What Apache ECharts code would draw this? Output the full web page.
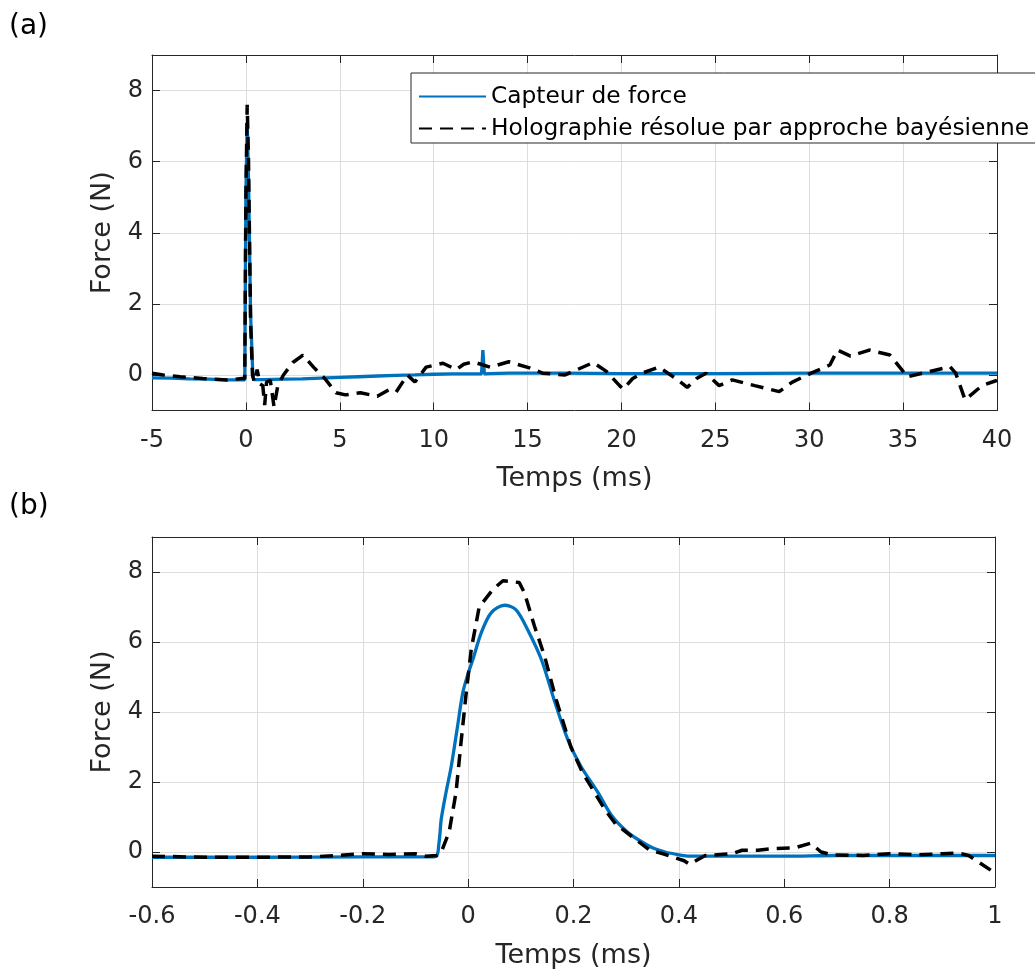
<!DOCTYPE html>
<html>
<head>
<meta charset="utf-8">
<script src="https://cdn.jsdelivr.net/npm/echarts@6/dist/echarts.min.js"></script>
<style>
html,body{margin:0;padding:0;background:#fff;}
#chart{width:1035px;height:970px;}
</style>
</head>
<body>
<div id="chart"></div>
<script>
// ---------- data ----------
// Panel (a): full time range
const topCapteurT = [-5, -4, -3, -2, -1, -0.06, -0.05, 0.0, 0.07, 0.14, 0.25, 0.37, 0.42, 1, 2, 3, 4, 5, 6, 7, 8, 9, 10, 11, 12, 12.55, 12.62, 12.7, 13, 14, 15, 17, 20, 25, 30, 35, 40];
const topCapteurF = [-0.08, -0.09, -0.11, -0.12, -0.14, -0.14, 0.9, 5.1, 7.08, 5.5, 1.7, 0.0, -0.13, -0.13, -0.12, -0.11, -0.09, -0.07, -0.05, -0.03, -0.01, 0.0, 0.02, 0.03, 0.03, 0.03, 0.7, 0.03, 0.04, 0.05, 0.05, 0.05, 0.04, 0.04, 0.05, 0.05, 0.05];

const topHoloT = [-5, -4.4, -3.5, -2.3, -1, -0.2, -0.06, 0.0, 0.07, 0.14, 0.25, 0.35, 0.45, 0.6, 0.75, 0.9, 1.0, 1.1, 1.3, 1.5, 1.7, 2.0, 2.5, 3.04, 3.6, 4.2, 4.8, 5.3, 6.1, 7.0, 7.6, 8.0, 8.6, 9.0, 9.6, 10.5, 11.2, 11.6, 12.1, 13.0, 14.0, 15.1, 15.8, 17.0, 18.5, 19.2, 19.9, 20.1, 20.6, 21.1, 22.0, 22.9, 23.5, 24.0, 24.5, 25.2, 25.9, 27.1, 28.4, 29.1, 30.1, 31.1, 31.5, 32.2, 33.2, 34.3, 35.0, 35.2, 36.3, 37.5, 37.8, 38.3, 39.2, 39.9, 40];
const topHoloF = [0.05, 0.0, -0.05, -0.1, -0.14, -0.1, -0.1, 5.0, 7.6, 6.0, 1.5, 0.0, -0.2, 0.15, -0.25, -0.3, -0.85, -0.2, -0.15, -0.9, -0.3, 0.0, 0.35, 0.56, 0.22, -0.1, -0.5, -0.56, -0.5, -0.6, -0.42, -0.48, 0.0, -0.2, 0.22, 0.33, 0.15, 0.3, 0.37, 0.22, 0.37, 0.2, 0.05, 0.0, 0.35, 0.1, -0.3, -0.4, -0.1, 0.05, 0.22, -0.1, -0.35, -0.1, 0.05, -0.3, -0.14, -0.3, -0.47, -0.2, 0.05, 0.28, 0.7, 0.53, 0.7, 0.56, 0.1, -0.05, 0.08, 0.23, 0.05, -0.7, -0.3, -0.17, -0.15];

// Panel (b): zoom on the impact
const botCapteurT = [-0.6, -0.4, -0.2, -0.1, -0.062, -0.055, -0.051, -0.042, -0.032, -0.02, -0.01, 0.0, 0.009, 0.025, 0.044, 0.069, 0.091, 0.113, 0.139, 0.163, 0.189, 0.214, 0.246, 0.272, 0.3, 0.323, 0.35, 0.374, 0.4, 0.42, 0.5, 0.6, 0.7, 0.8, 0.9, 1.0];
const botCapteurF = [-0.15, -0.15, -0.14, -0.14, -0.13, 0.3, 0.94, 1.7, 2.45, 3.6, 4.56, 5.1, 5.5, 6.27, 6.84, 7.05, 6.92, 6.35, 5.5, 4.36, 3.22, 2.45, 1.71, 1.05, 0.6, 0.35, 0.12, 0.0, -0.08, -0.12, -0.12, -0.12, -0.1, -0.1, -0.1, -0.1];

const botHoloT = [-0.6, -0.5, -0.4, -0.3, -0.25, -0.2, -0.15, -0.1, -0.08, -0.06, -0.051, -0.036, -0.023, -0.013, -0.004, 0.006, 0.021, 0.047, 0.066, 0.097, 0.107, 0.126, 0.145, 0.167, 0.195, 0.217, 0.236, 0.26, 0.28, 0.31, 0.345, 0.37, 0.41, 0.42, 0.45, 0.5, 0.52, 0.55, 0.58, 0.62, 0.65, 0.67, 0.69, 0.75, 0.8, 0.85, 0.9, 0.93, 0.95, 0.97, 1.0];
const botHoloF = [-0.12, -0.15, -0.15, -0.14, -0.1, -0.05, -0.07, -0.05, -0.12, -0.1, 0.0, 0.57, 1.7, 3.2, 4.5, 5.8, 7.0, 7.5, 7.75, 7.7, 7.4, 6.45, 5.6, 4.36, 3.0, 2.27, 1.8, 1.2, 0.8, 0.45, 0.05, -0.05, -0.25, -0.35, -0.1, -0.05, 0.05, 0.05, 0.1, 0.12, 0.25, 0.0, -0.08, -0.1, -0.05, -0.08, -0.05, -0.03, -0.1, -0.3, -0.6];

// tick labels
const yTicks = [0, 2, 4, 6, 8];
const xTicksTop = [-5, 0, 5, 10, 15, 20, 25, 30, 35, 40];
const xTicksBottom = [-0.6, -0.4, -0.2, 0, 0.2, 0.4, 0.6, 0.8, 1];

const seriesNames = ['Capteur de force', 'Holographie résolue par approche bayésienne'];
const panelLabels = ['(a)', '(b)'];
const xTitle = 'Temps (ms)';
const yTitle = 'Force (N)';

// ---------- chart ----------
const FONT = 'DejaVu Sans';
const AX = '#262626';
const GRIDC = '#dedede';
const BLUE = '#0072BD';

function zip(t, f) { return t.map((v, i) => [v, f[i]]); }

function mainX(gi, ticks) {
  return {
    type: 'value', gridIndex: gi, position: 'bottom',
    min: ticks[0], max: ticks[ticks.length - 1],
    axisLine: { show: true, onZero: false, lineStyle: { color: AX, width: 1 } },
    axisTick: { show: true, inside: true, length: 8, customValues: ticks, lineStyle: { color: AX } },
    axisLabel: { show: true, customValues: ticks, margin: 18, color: AX, fontFamily: FONT, fontSize: 24,
      formatter: v => String(+(+v).toFixed(1)) },
    splitLine: { show: true, lineStyle: { color: GRIDC, width: 1 } },
    name: xTitle, nameLocation: 'middle', nameGap: 55,
    nameTextStyle: { color: AX, fontFamily: FONT, fontSize: 27 }
  };
}
function boxX(gi, ticks) {
  return {
    type: 'value', gridIndex: gi, position: 'top',
    min: ticks[0], max: ticks[ticks.length - 1],
    axisLine: { show: true, onZero: false, lineStyle: { color: AX, width: 1 } },
    axisTick: { show: true, inside: true, length: 8, customValues: ticks, lineStyle: { color: AX } },
    axisLabel: { show: false }, splitLine: { show: false }
  };
}
function mainY(gi) {
  return {
    type: 'value', gridIndex: gi, position: 'left', min: -1, max: 9,
    axisLine: { show: true, onZero: false, lineStyle: { color: AX, width: 1 } },
    axisTick: { show: true, inside: true, length: 8, customValues: yTicks, lineStyle: { color: AX } },
    axisLabel: { show: true, customValues: yTicks, margin: 9, color: AX, fontFamily: FONT, fontSize: 24 },
    splitLine: { show: true, lineStyle: { color: GRIDC, width: 1 } },
    name: yTitle, nameLocation: 'middle', nameGap: 25, nameRotate: 90,
    nameTextStyle: { color: AX, fontFamily: FONT, fontSize: 27 }
  };
}
function boxY(gi) {
  return {
    type: 'value', gridIndex: gi, position: 'right', min: -1, max: 9,
    axisLine: { show: true, onZero: false, lineStyle: { color: AX, width: 1 } },
    axisTick: { show: true, inside: true, length: 8, customValues: yTicks, lineStyle: { color: AX } },
    axisLabel: { show: false }, splitLine: { show: false }
  };
}
function capteur(gi, data, smooth) {
  return { name: seriesNames[0], type: 'line', xAxisIndex: gi * 2, yAxisIndex: gi * 2, data: data,
    symbol: 'none', showSymbol: false, smooth: smooth, z: 3,
    lineStyle: { color: BLUE, width: 3.3 }, itemStyle: { color: BLUE } };
}
function holo(gi, data) {
  return { name: seriesNames[1], type: 'line', xAxisIndex: gi * 2, yAxisIndex: gi * 2, data: data,
    symbol: 'none', showSymbol: false, smooth: false, z: 4,
    lineStyle: { color: '#000', width: 3.5, type: [13, 8] }, itemStyle: { color: '#000' } };
}

const chart = echarts.init(document.getElementById('chart'), null, { renderer: 'canvas' });
chart.setOption({
  animation: false,
  backgroundColor: '#fff',
  textStyle: { fontFamily: FONT },
  grid: [
    { left: 152, top: 55, width: 845, height: 355.5, containLabel: false },
    { left: 152, top: 537, width: 843, height: 351, containLabel: false }
  ],
  xAxis: [mainX(0, xTicksTop), boxX(0, xTicksTop), mainX(1, xTicksBottom), boxX(1, xTicksBottom)],
  yAxis: [mainY(0), boxY(0), mainY(1), boxY(1)],
  legend: {
    show: true, orient: 'vertical', left: 411, top: 73,
    data: seriesNames,
    backgroundColor: '#fff', borderColor: AX, borderWidth: 1,
    padding: [11, 12, 2, 7], itemGap: 7, itemWidth: 67, itemHeight: 14,
    itemStyle: { color: 'rgba(0,0,0,0)', borderWidth: 0, opacity: 0 },
    textStyle: { color: '#000', fontFamily: FONT, fontSize: 23.3, lineHeight: 25 },
    selectedMode: false
  },
  graphic: [
    { type: 'text', left: 9, top: 13, style: { text: panelLabels[0], fontFamily: FONT, fontSize: 28, fill: '#000' } },
    { type: 'text', left: 9, top: 493, style: { text: panelLabels[1], fontFamily: FONT, fontSize: 28, fill: '#000' } }
  ],
  series: [
    capteur(0, zip(topCapteurT, topCapteurF), false),
    holo(0, zip(topHoloT, topHoloF)),
    capteur(1, zip(botCapteurT, botCapteurF), 0.3),
    holo(1, zip(botHoloT, botHoloF))
  ]
});
</script>
</body>
</html>
